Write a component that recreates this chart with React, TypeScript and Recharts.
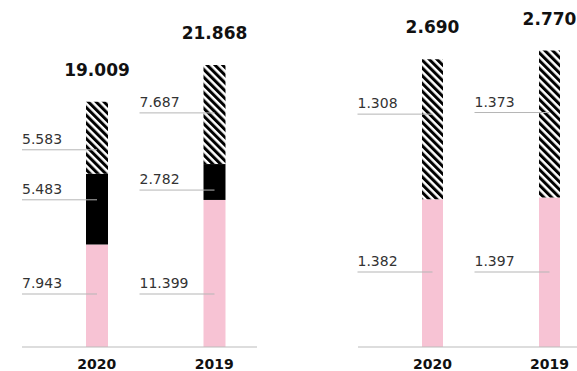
import React from 'react';
import { BarChart, Bar, XAxis, YAxis } from 'recharts';

const years = ['2020', '2019'];

// left panel (three parts)
const leftPink = [7943, 11399];
const leftBlack = [5483, 2782];
const leftHatch = [5583, 7687];

// right panel (two parts)
const rightPink = [1382, 1397];
const rightHatch = [1308, 1373];

const FONT = '"DejaVu Sans", sans-serif';
const PINK = '#f7c3d4';

const fmt = (n: number) => String(n).replace(/\B(?=(\d{3})+(?!\d))/g, '.');

const leftData = years.map((year, i) => ({
  year,
  pink: leftPink[i],
  black: leftBlack[i],
  hatch: leftHatch[i],
}));

const rightData = years.map((year, i) => ({
  year,
  pink: rightPink[i],
  hatch: rightHatch[i],
}));

const leftTotals = years.map((_, i) => leftPink[i] + leftBlack[i] + leftHatch[i]);
const rightTotals = years.map((_, i) => rightPink[i] + rightHatch[i]);

// value with a thin grey leader line running in from the left to the bar centre
const renderSegment = (props: any, values: number[], from: 'top' | 'bottom', offset: number) => {
  const { x, y, width, height, index } = props;
  const cx = x + width / 2;
  const ly = from === 'top' ? y + offset : y + height - offset;
  return (
    <g key={`seg-${index}`}>
      <line x1={cx - 75} x2={cx} y1={ly} y2={ly} stroke="#b5b5b5" strokeWidth={1} />
      <text x={cx - 75} y={ly - 6} fill="#333" fontSize={14} fontFamily={FONT}>
        {fmt(values[index])}
      </text>
    </g>
  );
};

const renderTotal = (props: any, totals: number[]) => {
  const { x, y, width, index } = props;
  return (
    <text
      key={`tot-${index}`}
      x={x + width / 2}
      y={y - 26}
      textAnchor="middle"
      fill="#111"
      fontSize={17}
      fontWeight={700}
      fontFamily={FONT}
    >
      {fmt(totals[index])}
    </text>
  );
};

const Hatch = ({ id }: { id: string }) => (
  <defs>
    <pattern id={id} width={5.5} height={5.5} patternUnits="userSpaceOnUse" patternTransform="rotate(-45)">
      <rect x={0} y={0} width={5.5} height={5.5} fill="#fff" />
      <rect x={0} y={0} width={3} height={5.5} fill="#000" />
    </pattern>
  </defs>
);

const tickStyle = { fill: '#111', fontSize: 14, fontWeight: 700, fontFamily: FONT };

export default function App() {
  return (
    <div style={{ position: 'fixed', left: 0, top: 0, width: 577, height: 371, overflow: 'hidden', background: '#fff' }}>
      <div style={{ position: 'absolute', left: 0, top: 0 }}>
        <BarChart width={290} height={371} data={leftData} margin={{ top: 24.5, right: 33, bottom: 0, left: 22 }}>
          <Hatch id="hatchLeft" />
          <XAxis
            dataKey="year"
            height={24}
            padding={{ left: 16, right: -16 }}
            tickLine={false}
            axisLine={{ stroke: '#bbb' }}
            tick={tickStyle}
            tickMargin={6}
          />
          <YAxis hide domain={[0, 25000]} />
          <Bar dataKey="pink" stackId="a" fill={PINK} barSize={22} isAnimationActive={false}
            label={(p: any) => renderSegment(p, leftPink, 'bottom', 53)} />
          <Bar dataKey="black" stackId="a" fill="#000" barSize={22} isAnimationActive={false}
            label={(p: any) => renderSegment(p, leftBlack, 'top', 26)} />
          <Bar dataKey="hatch" stackId="a" fill="url(#hatchLeft)" barSize={22} isAnimationActive={false}
            label={(p: any) => (
              <g key={`h-${p.index}`}>
                {renderSegment(p, leftHatch, 'top', 48)}
                {renderTotal(p, leftTotals)}
              </g>
            )} />
        </BarChart>
      </div>
      <div style={{ position: 'absolute', left: 290, top: 0 }}>
        <BarChart width={318} height={371} data={rightData} margin={{ top: 26, right: 0, bottom: 0, left: 68 }}>
          <Hatch id="hatchRight" />
          <XAxis
            dataKey="year"
            height={24}
            padding={{ left: 16, right: 0 }}
            tickLine={false}
            axisLine={{ stroke: '#bbb' }}
            tick={tickStyle}
            tickMargin={6}
          />
          <YAxis hide domain={[0, 3000]} />
          <Bar dataKey="pink" stackId="a" fill={PINK} barSize={21} isAnimationActive={false}
            label={(p: any) => renderSegment(p, rightPink, 'bottom', 75)} />
          <Bar dataKey="hatch" stackId="a" fill="url(#hatchRight)" barSize={21} isAnimationActive={false}
            label={(p: any) => (
              <g key={`h-${p.index}`}>
                {renderSegment(p, rightHatch, 'bottom', 85)}
                {renderTotal(p, rightTotals)}
              </g>
            )} />
        </BarChart>
      </div>
    </div>
  );
}
